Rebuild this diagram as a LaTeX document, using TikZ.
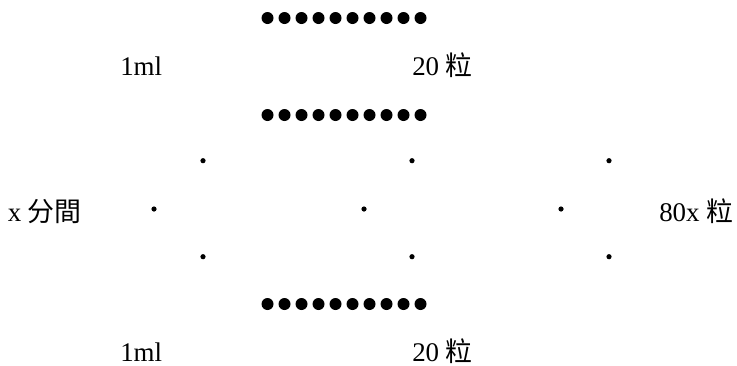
\documentclass[tikz,border=0pt]{standalone}
\usepackage{fontspec}
\setmainfont{Liberation Serif}
\newfontfamily\cjk{Noto Sans CJK SC}

\begin{document}
\begin{tikzpicture}[x=0.75pt, y=-0.75pt,
        lbl/.style={anchor=base west, inner sep=0pt, font=\fontsize{20.2}{24}\selectfont}]
        \useasboundingbox (0,0) rectangle (737,365);

        % Draw the three rows of large dots
        \foreach \y in {18,115,304} {
            \foreach \i in {0,...,9} {
                \fill (267.5+17*\i,\y) circle (6);
            }
        }

        % Draw the small dots in the middle
        \foreach \x in {203,412,609} {
            \fill (\x,160.7) circle (2.6);
            \fill (\x,256.7) circle (2.6);
        }
        \foreach \x in {154,364,561} {
            \fill (\x,209) circle (2.6);
        }

        % Add the text nodes
        \node[lbl] (mlA) at (120,75) {1ml};
        \node[lbl] (grainA) at (412,75) {20 {\cjk 粒}};
        \node[lbl] (minutes) at (7.5,221) {x {\cjk 分間}};
        \node[lbl] (grainX) at (659,221) {80x {\cjk 粒}};
        \node[lbl] (mlB) at (120,361) {1ml};
        \node[lbl] (grainB) at (412,361) {20 {\cjk 粒}};
    \end{tikzpicture}
\end{document}
